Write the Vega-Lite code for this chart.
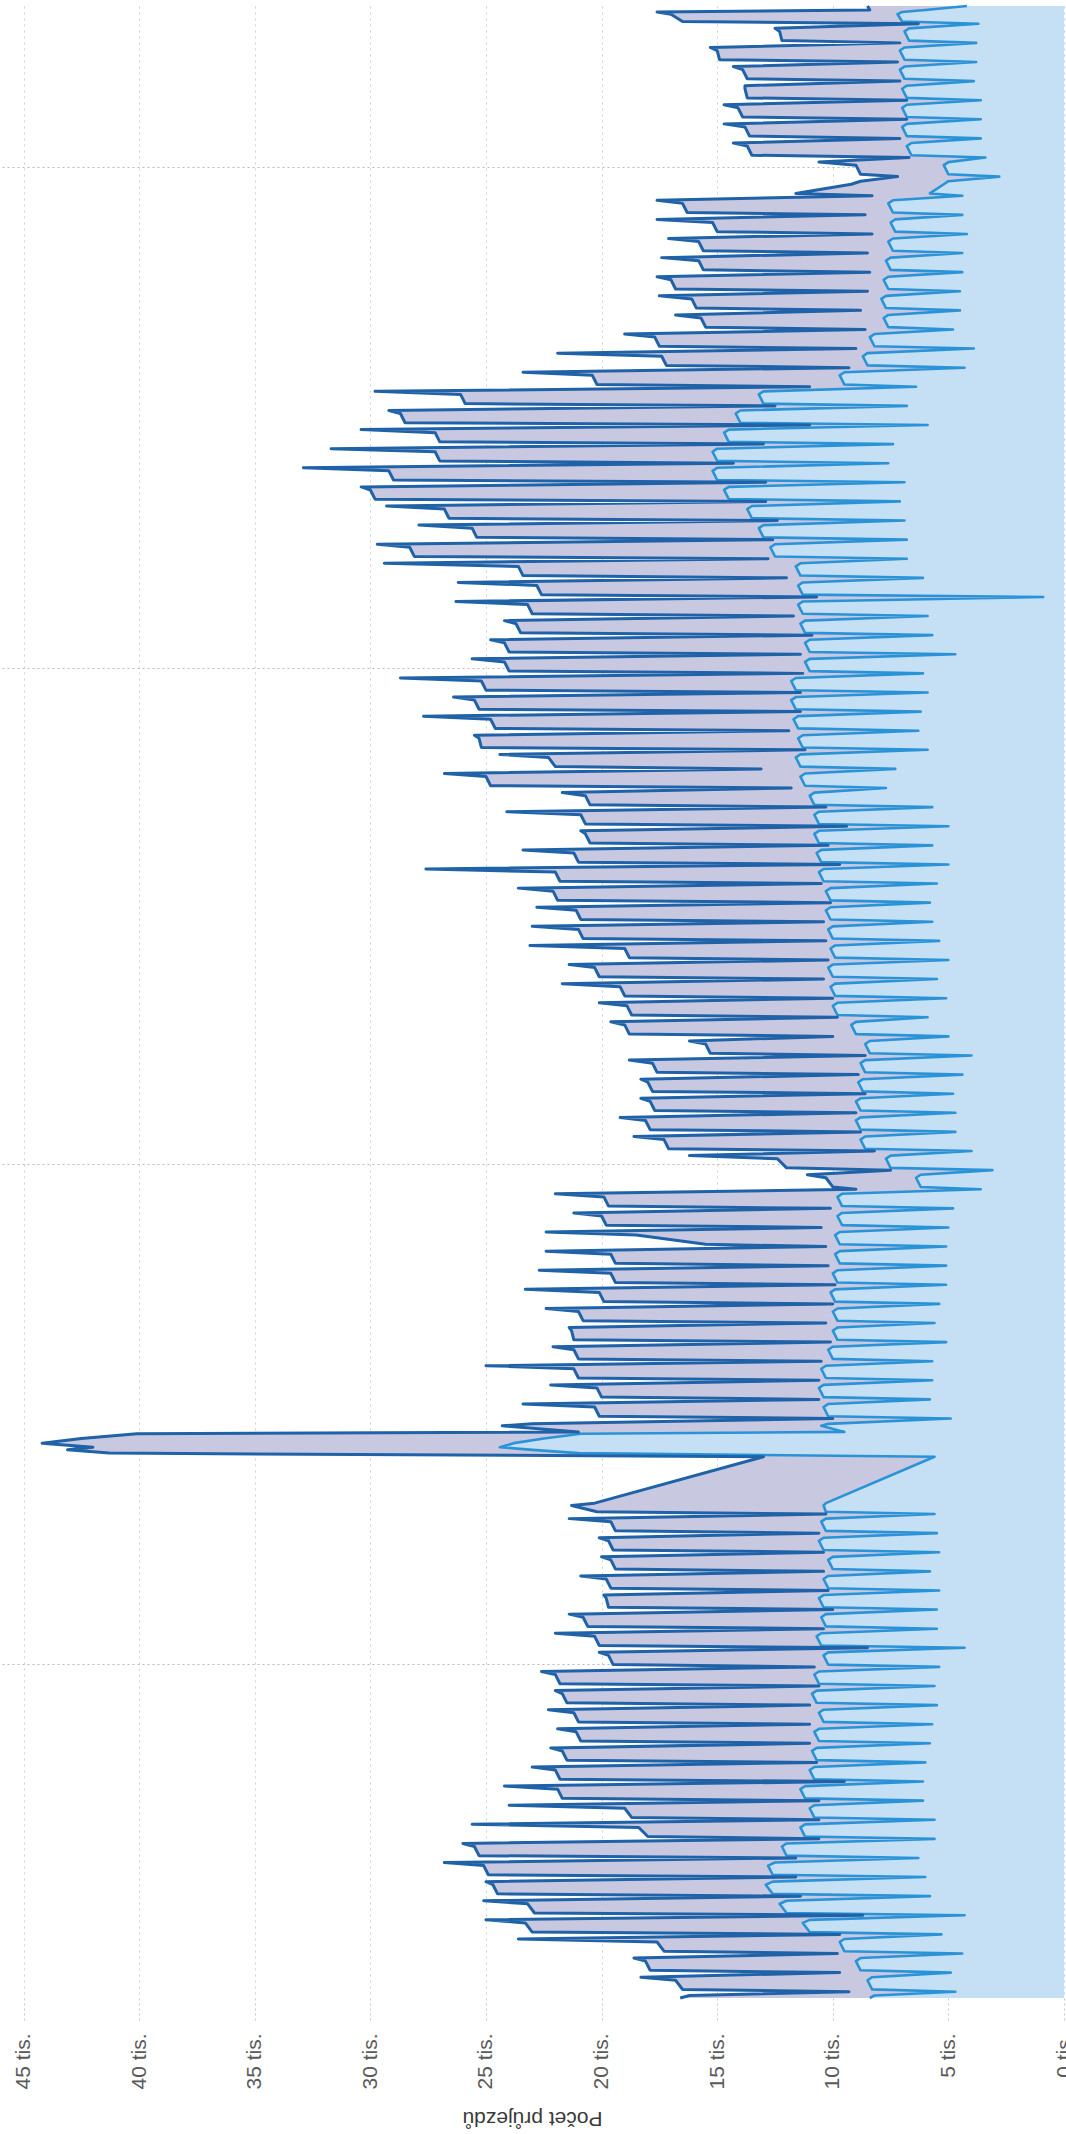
{
"$schema": "https://vega.github.io/schema/vega-lite/v6.json",
"width": 1064, "height": 1992,
"autosize": "none",
"padding": {"left": 0, "top": 6, "right": 2, "bottom": 136},
"background": "white",
"config": {
 "view": {"stroke": null},
 "font": "Liberation Sans",
 "axisX": {"labelAngle": -90, "labelFontSize": 21, "labelColor": "#5a5a5a", "labelFlush": false, "labelOverlap": false, "labelPadding": 13, "tickSize": 22, "tickColor": "#c8c8c8", "tickDash": [2,3], "domain": false, "grid": true, "gridColor": "#cfcfcf", "gridDash": [2,4], "titleFontSize": 21, "titleFontWeight": "normal", "titleColor": "#3a3a3a", "titleAngle": 180, "titleBaseline": "bottom", "titleAlign": "center", "titleY": 109, "titleX": 532},
 "axisY": {"labels": false, "ticks": false, "domain": false, "grid": true, "gridColor": "#b8b8b8", "gridDash": [2,3]}
},
"data": {"values": [
{"t":-0.33,"d":16.6,"l":8.4},{"t":-0.2,"d":16.2,"l":8.2},
{"t":0,"d":9.3,"l":4.7},{"t":0.12,"d":16.5,"l":8.3},{"t":0.6,"d":16.8,"l":8.5},{"t":0.76,"d":18.3,"l":8.3},
{"t":1,"d":9.7,"l":4.9},{"t":1.12,"d":17.9,"l":8.8},{"t":1.6,"d":18.1,"l":9.0},{"t":1.76,"d":18.6,"l":8.8},
{"t":2,"d":9.8,"l":4.4},{"t":2.12,"d":17.3,"l":9.5},{"t":2.6,"d":17.6,"l":9.7},{"t":2.76,"d":23.6,"l":9.5},
{"t":3,"d":9.7,"l":5.3},{"t":3.12,"d":23.0,"l":11.0},{"t":3.6,"d":23.3,"l":11.3},{"t":3.76,"d":25.0,"l":11.0},
{"t":4,"d":8.7,"l":4.3},{"t":4.12,"d":22.9,"l":12.0},{"t":4.6,"d":23.2,"l":12.3},{"t":4.76,"d":25.1,"l":12.0},
{"t":5,"d":11.4,"l":5.8},{"t":5.12,"d":24.5,"l":12.6},{"t":5.6,"d":24.7,"l":12.9},{"t":5.76,"d":25.0,"l":12.6},
{"t":6,"d":11.6,"l":6.0},{"t":6.12,"d":24.9,"l":12.6},{"t":6.6,"d":25.1,"l":12.8},{"t":6.76,"d":26.8,"l":12.5},
{"t":7,"d":11.6,"l":6.3},{"t":7.12,"d":25.3,"l":12.0},{"t":7.6,"d":25.5,"l":12.2},{"t":7.76,"d":26.0,"l":12.0},
{"t":8,"d":10.6,"l":5.6},{"t":8.12,"d":18.0,"l":11.2},{"t":8.6,"d":18.4,"l":11.4},{"t":8.76,"d":25.6,"l":11.2},
{"t":9,"d":10.6,"l":5.6},{"t":9.12,"d":18.7,"l":10.8},{"t":9.6,"d":19.0,"l":11.0},{"t":9.76,"d":24.0,"l":10.8},
{"t":10,"d":10.6,"l":6.1},{"t":10.12,"d":21.7,"l":11.2},{"t":10.6,"d":21.9,"l":11.4},{"t":10.76,"d":24.2,"l":11.2},
{"t":11,"d":9.5,"l":6.1},{"t":11.12,"d":21.8,"l":10.8},{"t":11.6,"d":22.0,"l":11.0},{"t":11.76,"d":23.0,"l":10.8},
{"t":12,"d":10.7,"l":6.0},{"t":12.12,"d":21.5,"l":10.7},{"t":12.6,"d":21.7,"l":10.9},{"t":12.76,"d":22.2,"l":10.7},
{"t":13,"d":11.0,"l":5.8},{"t":13.12,"d":20.9,"l":10.6},{"t":13.6,"d":21.1,"l":10.8},{"t":13.76,"d":21.9,"l":10.6},
{"t":14,"d":11.0,"l":5.7},{"t":14.12,"d":21.0,"l":10.4},{"t":14.6,"d":21.2,"l":10.6},{"t":14.76,"d":22.3,"l":10.4},
{"t":15,"d":11.0,"l":5.5},{"t":15.12,"d":21.5,"l":10.7},{"t":15.6,"d":21.7,"l":10.9},{"t":15.76,"d":22.0,"l":10.7},
{"t":16,"d":10.6,"l":5.6},{"t":16.12,"d":21.8,"l":10.6},{"t":16.6,"d":22.0,"l":10.8},{"t":16.76,"d":22.6,"l":10.6},
{"t":17,"d":10.8,"l":5.4},{"t":17.12,"d":19.5,"l":10.2},{"t":17.6,"d":19.7,"l":10.4},{"t":17.76,"d":20.1,"l":10.2},
{"t":18,"d":8.5,"l":4.3},{"t":18.12,"d":20.1,"l":10.5},{"t":18.6,"d":20.3,"l":10.7},{"t":18.76,"d":22.0,"l":10.5},
{"t":19,"d":10.4,"l":5.5},{"t":19.12,"d":20.6,"l":10.3},{"t":19.6,"d":20.8,"l":10.5},{"t":19.76,"d":21.4,"l":10.3},
{"t":20,"d":10.0,"l":5.5},{"t":20.12,"d":19.7,"l":10.4},{"t":20.6,"d":19.8,"l":10.6},{"t":20.76,"d":19.9,"l":10.4},
{"t":21,"d":10.2,"l":5.4},{"t":21.12,"d":19.6,"l":10.2},{"t":21.6,"d":19.8,"l":10.4},{"t":21.76,"d":20.9,"l":10.2},
{"t":22,"d":10.4,"l":5.8},{"t":22.12,"d":19.4,"l":10.0},{"t":22.6,"d":19.6,"l":10.2},{"t":22.76,"d":20.0,"l":10.0},
{"t":23,"d":10.4,"l":5.4},{"t":23.12,"d":19.5,"l":10.4},{"t":23.6,"d":19.7,"l":10.6},{"t":23.76,"d":20.1,"l":10.4},
{"t":24,"d":10.6,"l":5.5},{"t":24.12,"d":19.4,"l":10.3},{"t":24.6,"d":19.6,"l":10.5},{"t":24.76,"d":21.4,"l":10.3},
{"t":25,"d":10.3,"l":5.6},{"t":25.12,"d":20.2,"l":10.3},{"t":25.45,"d":21.3,"l":10.4},{"t":25.57,"d":20.3,"l":10.3},
{"t":28,"d":13.0,"l":5.6},{"t":28.19,"d":41.3,"l":21.0},{"t":28.36,"d":43.1,"l":23.0},{"t":28.5,"d":42.0,"l":24.4},{"t":28.71,"d":44.2,"l":23.8},{"t":28.95,"d":42.5,"l":22.5},{"t":29.2,"d":40.1,"l":20.9},{"t":29.3,"d":21.0,"l":9.5},{"t":29.62,"d":24.3,"l":10.5},{"t":29.72,"d":23.0,"l":10.2},
{"t":30,"d":10.0,"l":4.9},{"t":30.12,"d":20.1,"l":10.2},{"t":30.6,"d":20.3,"l":10.4},{"t":30.76,"d":23.4,"l":10.2},
{"t":31,"d":10.6,"l":5.8},{"t":31.12,"d":20.0,"l":10.4},{"t":31.6,"d":20.2,"l":10.6},{"t":31.76,"d":22.2,"l":10.4},
{"t":32,"d":10.6,"l":5.7},{"t":32.12,"d":21.0,"l":10.3},{"t":32.6,"d":21.2,"l":10.5},{"t":32.76,"d":25.0,"l":10.3},
{"t":33,"d":10.5,"l":5.7},{"t":33.12,"d":21.0,"l":10.0},{"t":33.6,"d":21.2,"l":10.2},{"t":33.76,"d":22.1,"l":10.0},
{"t":34,"d":10.1,"l":5.1},{"t":34.12,"d":21.2,"l":9.8},{"t":34.6,"d":21.3,"l":10.0},{"t":34.76,"d":21.4,"l":9.8},
{"t":35,"d":10.3,"l":5.6},{"t":35.12,"d":20.8,"l":9.8},{"t":35.6,"d":21.0,"l":10.0},{"t":35.76,"d":22.4,"l":9.8},
{"t":36,"d":10.0,"l":5.4},{"t":36.12,"d":19.9,"l":9.9},{"t":36.6,"d":20.1,"l":10.1},{"t":36.76,"d":23.3,"l":9.9},
{"t":37,"d":9.9,"l":5.1},{"t":37.12,"d":19.4,"l":9.8},{"t":37.6,"d":19.6,"l":10.0},{"t":37.76,"d":22.7,"l":9.8},
{"t":38,"d":10.2,"l":5.1},{"t":38.12,"d":19.4,"l":9.7},{"t":38.6,"d":19.6,"l":9.9},{"t":38.76,"d":22.4,"l":9.7},
{"t":39,"d":10.3,"l":5.1},{"t":39.12,"d":15.5,"l":9.7},{"t":39.6,"d":18.5,"l":9.9},{"t":39.76,"d":22.4,"l":9.7},
{"t":40,"d":10.5,"l":5.0},{"t":40.12,"d":19.8,"l":9.6},{"t":40.6,"d":20.0,"l":9.8},{"t":40.76,"d":21.2,"l":9.6},
{"t":41,"d":10.1,"l":4.8},{"t":41.12,"d":19.7,"l":9.6},{"t":41.6,"d":19.9,"l":9.8},{"t":41.76,"d":22.0,"l":9.6},
{"t":42,"d":9.0,"l":3.6},{"t":42.12,"d":10.0,"l":6.2},{"t":42.6,"d":10.3,"l":6.4},{"t":42.76,"d":11.1,"l":6.2},
{"t":43,"d":7.5,"l":3.1},{"t":43.12,"d":12.0,"l":7.5},{"t":43.6,"d":12.4,"l":7.7},{"t":43.76,"d":16.2,"l":7.5},
{"t":44,"d":8.2,"l":4.0},{"t":44.12,"d":17.1,"l":8.6},{"t":44.6,"d":17.3,"l":8.8},{"t":44.76,"d":18.6,"l":8.6},
{"t":45,"d":8.8,"l":4.7},{"t":45.12,"d":17.9,"l":8.8},{"t":45.6,"d":18.1,"l":9.0},{"t":45.76,"d":19.2,"l":8.8},
{"t":46,"d":9.0,"l":4.7},{"t":46.12,"d":17.7,"l":8.8},{"t":46.6,"d":17.9,"l":9.0},{"t":46.76,"d":18.3,"l":8.8},
{"t":47,"d":8.6,"l":4.8},{"t":47.12,"d":17.8,"l":8.7},{"t":47.6,"d":18.0,"l":8.9},{"t":47.76,"d":18.3,"l":8.7},
{"t":48,"d":8.9,"l":4.4},{"t":48.12,"d":17.6,"l":8.6},{"t":48.6,"d":17.8,"l":8.8},{"t":48.76,"d":18.8,"l":8.6},
{"t":49,"d":8.6,"l":4.0},{"t":49.12,"d":15.3,"l":8.4},{"t":49.6,"d":15.5,"l":8.6},{"t":49.76,"d":16.2,"l":8.4},
{"t":50,"d":10.0,"l":5.0},{"t":50.12,"d":18.8,"l":9.0},{"t":50.6,"d":19.0,"l":9.2},{"t":50.76,"d":19.6,"l":9.0},
{"t":51,"d":9.8,"l":5.9},{"t":51.12,"d":18.7,"l":9.8},{"t":51.6,"d":18.9,"l":10.0},{"t":51.76,"d":20.1,"l":9.8},
{"t":52,"d":10.0,"l":5.1},{"t":52.12,"d":19.0,"l":9.9},{"t":52.6,"d":19.2,"l":10.1},{"t":52.76,"d":21.7,"l":9.9},
{"t":53,"d":10.4,"l":5.5},{"t":53.12,"d":20.1,"l":10.0},{"t":53.6,"d":20.3,"l":10.2},{"t":53.76,"d":21.4,"l":10.0},
{"t":54,"d":10.2,"l":5.0},{"t":54.12,"d":18.8,"l":9.9},{"t":54.6,"d":19.0,"l":10.1},{"t":54.76,"d":23.1,"l":9.9},
{"t":55,"d":10.3,"l":5.4},{"t":55.12,"d":20.8,"l":10.0},{"t":55.6,"d":21.0,"l":10.2},{"t":55.76,"d":23.0,"l":10.0},
{"t":56,"d":10.4,"l":5.7},{"t":56.12,"d":20.9,"l":10.1},{"t":56.6,"d":21.1,"l":10.3},{"t":56.76,"d":22.8,"l":10.1},
{"t":57,"d":10.1,"l":5.8},{"t":57.12,"d":21.9,"l":10.1},{"t":57.6,"d":22.1,"l":10.3},{"t":57.76,"d":23.6,"l":10.1},
{"t":58,"d":10.5,"l":5.5},{"t":58.12,"d":21.8,"l":10.4},{"t":58.6,"d":22.0,"l":10.6},{"t":58.76,"d":27.6,"l":10.4},
{"t":59,"d":9.7,"l":5.0},{"t":59.12,"d":21.0,"l":10.5},{"t":59.6,"d":21.2,"l":10.7},{"t":59.76,"d":23.4,"l":10.5},
{"t":60,"d":10.2,"l":5.7},{"t":60.12,"d":20.5,"l":10.6},{"t":60.6,"d":20.7,"l":10.8},{"t":60.76,"d":20.9,"l":10.6},
{"t":61,"d":9.4,"l":5.0},{"t":61.12,"d":20.7,"l":10.6},{"t":61.6,"d":20.9,"l":10.8},{"t":61.76,"d":24.1,"l":10.6},
{"t":62,"d":10.3,"l":5.7},{"t":62.12,"d":20.5,"l":10.8},{"t":62.6,"d":20.7,"l":11.0},{"t":62.76,"d":21.7,"l":10.8},
{"t":63,"d":11.8,"l":7.7},{"t":63.12,"d":24.8,"l":11.2},{"t":63.6,"d":25.0,"l":11.4},{"t":63.76,"d":26.8,"l":11.2},
{"t":64,"d":13.1,"l":7.3},{"t":64.12,"d":22.0,"l":11.4},{"t":64.6,"d":22.3,"l":11.6},{"t":64.76,"d":24.4,"l":11.4},
{"t":65,"d":11.2,"l":5.9},{"t":65.12,"d":25.2,"l":11.3},{"t":65.6,"d":25.3,"l":11.5},{"t":65.76,"d":25.5,"l":11.3},
{"t":66,"d":11.9,"l":6.3},{"t":66.12,"d":24.6,"l":11.5},{"t":66.6,"d":24.8,"l":11.7},{"t":66.76,"d":27.7,"l":11.5},
{"t":67,"d":11.4,"l":6.2},{"t":67.12,"d":25.3,"l":11.6},{"t":67.6,"d":25.5,"l":11.8},{"t":67.76,"d":26.4,"l":11.6},
{"t":68,"d":11.4,"l":5.9},{"t":68.12,"d":25.0,"l":11.6},{"t":68.6,"d":25.2,"l":11.8},{"t":68.76,"d":28.7,"l":11.6},
{"t":69,"d":11.3,"l":6.1},{"t":69.12,"d":24.0,"l":11.0},{"t":69.6,"d":24.2,"l":11.2},{"t":69.76,"d":25.6,"l":11.0},
{"t":70,"d":11.4,"l":4.7},{"t":70.12,"d":24.0,"l":11.0},{"t":70.6,"d":24.2,"l":11.2},{"t":70.76,"d":24.8,"l":11.0},
{"t":71,"d":10.9,"l":5.7},{"t":71.12,"d":23.5,"l":11.2},{"t":71.6,"d":23.7,"l":11.4},{"t":71.76,"d":24.2,"l":11.2},
{"t":72,"d":11.7,"l":5.9},{"t":72.12,"d":23.0,"l":11.3},{"t":72.6,"d":23.2,"l":11.5},{"t":72.76,"d":26.3,"l":11.3},
{"t":73,"d":10.7,"l":0.9},{"t":73.12,"d":22.6,"l":11.3},{"t":73.6,"d":22.8,"l":11.5},{"t":73.76,"d":26.2,"l":11.3},
{"t":74,"d":12.0,"l":6.1},{"t":74.12,"d":23.4,"l":11.4},{"t":74.6,"d":23.6,"l":11.6},{"t":74.76,"d":29.4,"l":11.4},
{"t":75,"d":12.8,"l":6.8},{"t":75.12,"d":28.1,"l":12.5},{"t":75.6,"d":28.3,"l":12.7},{"t":75.76,"d":29.7,"l":12.5},
{"t":76,"d":12.6,"l":6.8},{"t":76.12,"d":25.4,"l":13.0},{"t":76.6,"d":25.6,"l":13.2},{"t":76.76,"d":27.9,"l":13.0},
{"t":77,"d":12.4,"l":6.9},{"t":77.12,"d":26.6,"l":13.5},{"t":77.6,"d":26.8,"l":13.7},{"t":77.76,"d":29.3,"l":13.5},
{"t":78,"d":12.9,"l":7.1},{"t":78.12,"d":29.8,"l":14.5},{"t":78.6,"d":30.0,"l":14.7},{"t":78.76,"d":30.4,"l":14.5},
{"t":79,"d":12.9,"l":6.9},{"t":79.12,"d":29.0,"l":15.0},{"t":79.6,"d":29.2,"l":15.2},{"t":79.76,"d":32.9,"l":15.0},
{"t":80,"d":14.3,"l":7.6},{"t":80.12,"d":27.0,"l":15.0},{"t":80.6,"d":27.2,"l":15.2},{"t":80.76,"d":31.7,"l":15.0},
{"t":81,"d":13.0,"l":7.4},{"t":81.12,"d":27.0,"l":14.5},{"t":81.6,"d":27.2,"l":14.7},{"t":81.76,"d":30.4,"l":14.5},
{"t":82,"d":11.0,"l":5.9},{"t":82.12,"d":28.5,"l":14.0},{"t":82.6,"d":28.7,"l":14.2},{"t":82.76,"d":29.2,"l":14.0},
{"t":83,"d":12.5,"l":6.8},{"t":83.12,"d":25.9,"l":13.0},{"t":83.6,"d":26.1,"l":13.2},{"t":83.76,"d":29.8,"l":13.0},
{"t":84,"d":11.0,"l":6.4},{"t":84.12,"d":20.2,"l":9.5},{"t":84.6,"d":20.4,"l":9.7},{"t":84.76,"d":23.4,"l":9.5},
{"t":85,"d":9.3,"l":4.3},{"t":85.12,"d":17.2,"l":8.5},{"t":85.6,"d":17.4,"l":8.7},{"t":85.76,"d":21.9,"l":8.5},
{"t":86,"d":9.0,"l":3.9},{"t":86.12,"d":17.5,"l":8.2},{"t":86.6,"d":17.7,"l":8.4},{"t":86.76,"d":19.0,"l":8.2},
{"t":87,"d":8.6,"l":4.8},{"t":87.12,"d":15.5,"l":7.6},{"t":87.6,"d":15.7,"l":7.8},{"t":87.76,"d":16.8,"l":7.6},
{"t":88,"d":8.8,"l":4.5},{"t":88.12,"d":15.9,"l":7.7},{"t":88.6,"d":16.1,"l":7.9},{"t":88.76,"d":17.5,"l":7.7},
{"t":89,"d":8.5,"l":4.5},{"t":89.12,"d":16.8,"l":7.6},{"t":89.6,"d":17.0,"l":7.8},{"t":89.76,"d":17.6,"l":7.6},
{"t":90,"d":8.4,"l":4.4},{"t":90.12,"d":15.6,"l":7.5},{"t":90.6,"d":15.8,"l":7.7},{"t":90.76,"d":17.4,"l":7.5},
{"t":91,"d":8.5,"l":4.4},{"t":91.12,"d":15.6,"l":7.4},{"t":91.6,"d":15.8,"l":7.6},{"t":91.76,"d":17.1,"l":7.4},
{"t":92,"d":8.3,"l":4.2},{"t":92.12,"d":15.0,"l":7.3},{"t":92.6,"d":15.2,"l":7.5},{"t":92.76,"d":17.6,"l":7.3},
{"t":93,"d":8.6,"l":4.4},{"t":93.12,"d":16.3,"l":7.4},{"t":93.6,"d":16.5,"l":7.6},{"t":93.76,"d":17.6,"l":7.4},
{"t":94,"d":8.3,"l":4.4},{"t":94.12,"d":11.6,"l":5.8},{"t":94.6,"d":9.2,"l":5.2},{"t":94.76,"d":8.8,"l":5.0},
{"t":95,"d":7.2,"l":2.8},{"t":95.12,"d":8.8,"l":5.0},{"t":95.6,"d":9.0,"l":5.2},{"t":95.76,"d":10.6,"l":5.0},
{"t":96,"d":6.7,"l":3.4},{"t":96.12,"d":13.5,"l":6.6},{"t":96.6,"d":13.7,"l":6.8},{"t":96.76,"d":14.3,"l":6.6},
{"t":97,"d":7.1,"l":3.6},{"t":97.12,"d":13.6,"l":6.8},{"t":97.6,"d":13.8,"l":7.0},{"t":97.76,"d":14.7,"l":6.8},
{"t":98,"d":6.8,"l":3.6},{"t":98.12,"d":13.9,"l":6.8},{"t":98.6,"d":14.1,"l":7.0},{"t":98.76,"d":14.7,"l":6.8},
{"t":99,"d":6.8,"l":3.6},{"t":99.12,"d":13.7,"l":6.8},{"t":99.6,"d":13.8,"l":7.0},{"t":99.76,"d":13.8,"l":6.8},
{"t":100,"d":7.1,"l":3.9},{"t":100.12,"d":13.7,"l":6.9},{"t":100.6,"d":13.9,"l":7.1},{"t":100.76,"d":14.3,"l":6.9},
{"t":101,"d":7.2,"l":3.8},{"t":101.12,"d":14.9,"l":6.9},{"t":101.6,"d":15.0,"l":7.1},{"t":101.76,"d":15.3,"l":6.9},
{"t":102,"d":7.1,"l":3.8},{"t":102.12,"d":12.2,"l":6.7},{"t":102.6,"d":12.3,"l":6.9},{"t":102.76,"d":12.5,"l":6.7},
{"t":103,"d":6.3,"l":3.7},{"t":103.12,"d":16.5,"l":7.0},{"t":103.5,"d":17.0,"l":7.2},{"t":103.62,"d":17.6,"l":7.0},{"t":103.72,"d":8.4,"l":6.0},{"t":103.93,"d":8.5,"l":4.2}
]},
"encoding": {
 "y": {"field": "t", "type": "quantitative", "title": null, "scale": {"domain": [-0.33, 103.93], "nice": false, "zero": false}, "axis": {"values": [17.15, 43.32, 69.27, 95.52]}}
},
"layer": [
 {"mark": {"type": "area", "orient": "horizontal", "color": "#c5dff4", "opacity": 1},
  "encoding": {
   "x": {"field": "l", "type": "quantitative", "title": "Počet průjezdů", "scale": {"domain": [0, 46.02], "reverse": true, "nice": false, "zero": true}, "axis": {"values": [0,5,10,15,20,25,30,35,40,45], "labelExpr": "datum.value + ' tis.'"}},
   "x2": {"datum": 0}}},
 {"mark": {"type": "area", "orient": "horizontal", "color": "#c9c8e1", "opacity": 1},
  "encoding": {
   "x": {"field": "d", "type": "quantitative", "title": "Počet průjezdů", "scale": {"domain": [0, 46.02], "reverse": true, "nice": false, "zero": true}, "axis": {"values": [0,5,10,15,20,25,30,35,40,45], "labelExpr": "datum.value + ' tis.'"}},
   "x2": {"field": "l"}}},
 {"mark": {"type": "line", "color": "#2a93d8", "strokeWidth": 2.6, "strokeJoin": "round"},
  "encoding": {
   "x": {"field": "l", "type": "quantitative", "title": "Počet průjezdů", "scale": {"domain": [0, 46.02], "reverse": true, "nice": false, "zero": true}, "axis": {"values": [0,5,10,15,20,25,30,35,40,45], "labelExpr": "datum.value + ' tis.'"}},
   "order": {"field": "t", "type": "quantitative"}}},
 {"mark": {"type": "line", "color": "#1f62a7", "strokeWidth": 3, "strokeJoin": "round"},
  "encoding": {
   "x": {"field": "d", "type": "quantitative", "title": "Počet průjezdů", "scale": {"domain": [0, 46.02], "reverse": true, "nice": false, "zero": true}, "axis": {"values": [0,5,10,15,20,25,30,35,40,45], "labelExpr": "datum.value + ' tis.'"}},
   "order": {"field": "t", "type": "quantitative"}}}
]
}
